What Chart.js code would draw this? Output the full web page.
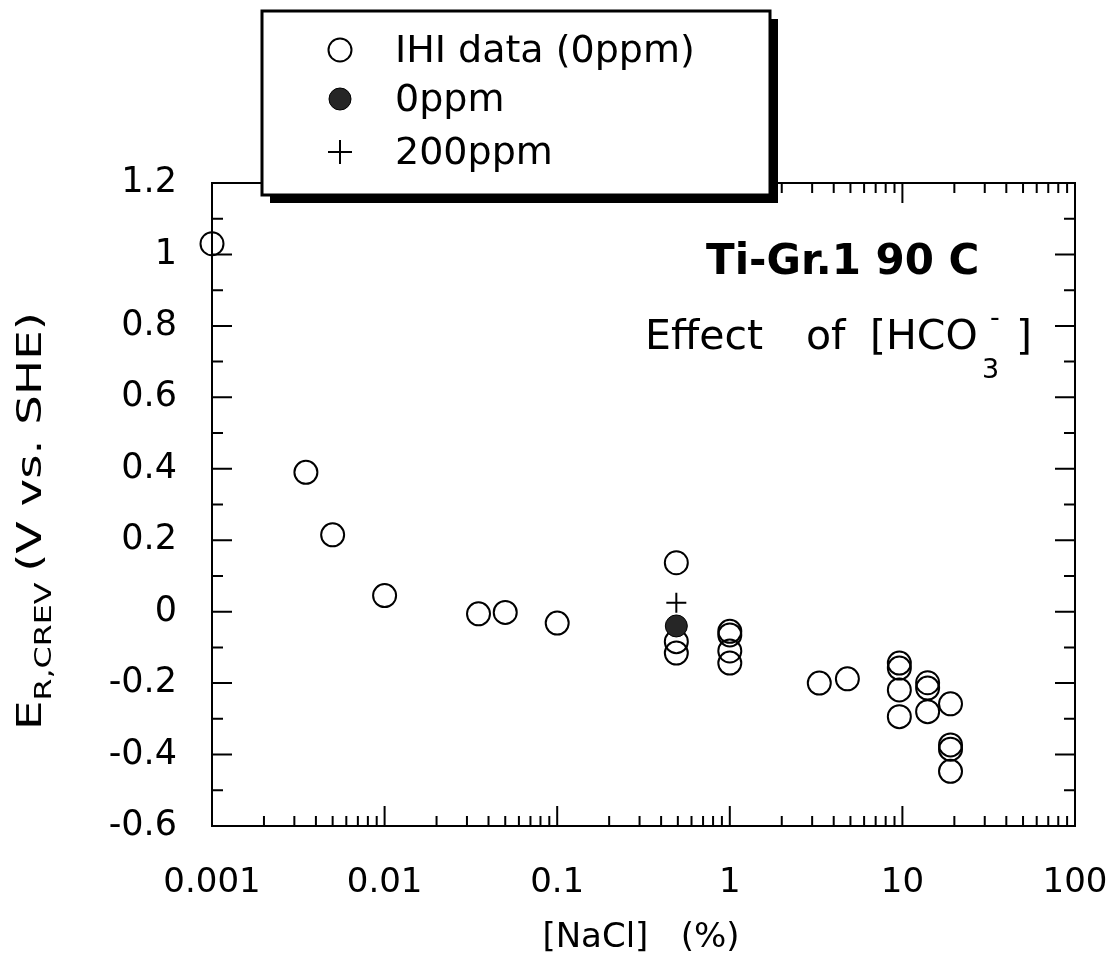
<!DOCTYPE html>
<html lang="en">
<head>
<meta charset="UTF-8">
<title>Ti-Gr.1 90 C - Effect of [HCO3-]</title>
<script src="https://cdn.jsdelivr.net/npm/chart.js"></script>
<style>
    body {
        margin: 0;
        padding: 0;
        background: #fff;
    }
    #wrap {
        width: 1116px;
        height: 961px;
    }
</style>
</head>
<body>
<div id="wrap">
    <canvas id="myChart" width="1116" height="961"></canvas>
</div>

<script>
    // IHI data (0ppm) - open circles
    var ihiX = [0.001, 0.0035, 0.005, 0.01, 0.035, 0.05, 0.1,
                0.49, 0.49, 0.49, 1, 1, 1, 1, 3.3, 4.8,
                9.6, 9.6, 9.6, 9.6, 14, 14, 14, 19, 19, 19, 19];
    var ihiY = [1.03, 0.39, 0.215, 0.045, -0.006, -0.002, -0.032,
                0.137, -0.084, -0.116, -0.055, -0.065, -0.11, -0.144, -0.2, -0.188,
                -0.144, -0.158, -0.219, -0.294, -0.199, -0.214, -0.28, -0.258, -0.373, -0.385, -0.447];
    // 0ppm - filled circle
    var zeroX = [0.49];
    var zeroY = [-0.04];
    // 200ppm - plus
    var ppm200X = [0.49];
    var ppm200Y = [0.025];

    var legendLabels = ['IHI data (0ppm)', '0ppm', '200ppm'];

    var xTickValues = [0.001, 0.01, 0.1, 1, 10, 100];
    var xTickLabels = ['0.001', '0.01', '0.1', '1', '10', '100'];
    var yTickValues = [-0.6, -0.4, -0.2, 0, 0.2, 0.4, 0.6, 0.8, 1, 1.2];
    var yTickLabels = ['-0.6', '-0.4', '-0.2', '0', '0.2', '0.4', '0.6', '0.8', '1', '1.2'];
    var yMinorTicks = [-0.5, -0.3, -0.1, 0.1, 0.3, 0.5, 0.7, 0.9, 1.1];

    var FONT = '"DejaVu Sans", "Liberation Sans", Arial, sans-serif';

    function toPoints(xs, ys) {
        return xs.map(function (x, i) { return { x: x, y: ys[i] }; });
    }

    // frame + inward ticks on all four sides
    var axisFrame = {
        id: 'axisFrame',
        beforeDatasetsDraw: function (chart) {
            var ctx = chart.ctx;
            var a = chart.chartArea;
            var xs = chart.scales.x;
            var ys = chart.scales.y;
            ctx.save();
            ctx.strokeStyle = '#000';
            ctx.lineWidth = 2;
            ctx.strokeRect(a.left, a.top, a.right - a.left, a.bottom - a.top);

            ctx.beginPath();
            yTickValues.forEach(function (v) {
                var py = ys.getPixelForValue(v);
                ctx.moveTo(a.left, py); ctx.lineTo(a.left + 20, py);
                ctx.moveTo(a.right, py); ctx.lineTo(a.right - 20, py);
            });
            yMinorTicks.forEach(function (v) {
                var py = ys.getPixelForValue(v);
                ctx.moveTo(a.left, py); ctx.lineTo(a.left + 11, py);
                ctx.moveTo(a.right, py); ctx.lineTo(a.right - 11, py);
            });
            xTickValues.forEach(function (v, i) {
                var px = xs.getPixelForValue(v);
                ctx.moveTo(px, a.bottom); ctx.lineTo(px, a.bottom - 20);
                ctx.moveTo(px, a.top); ctx.lineTo(px, a.top + 20);
                if (i < xTickValues.length - 1) {
                    for (var m = 2; m <= 9; m++) {
                        var pm = xs.getPixelForValue(v * m);
                        ctx.moveTo(pm, a.bottom); ctx.lineTo(pm, a.bottom - 10);
                        ctx.moveTo(pm, a.top); ctx.lineTo(pm, a.top + 10);
                    }
                }
            });
            ctx.stroke();
            ctx.restore();
        }
    };

    // axis titles, annotation and the boxed legend
    var extras = {
        id: 'extras',
        afterDraw: function (chart) {
            var ctx = chart.ctx;
            var ds = chart.data.datasets;
            ctx.save();
            ctx.fillStyle = '#000';
            ctx.textAlign = 'left';
            ctx.textBaseline = 'alphabetic';

            // y title, rotated and stretched along its baseline
            var mainFont = '34px ' + FONT;
            var subFont = '23px ' + FONT;
            ctx.font = mainFont;
            var wE = ctx.measureText('E').width;
            var wRest = ctx.measureText('(V vs. SHE)').width;
            ctx.font = subFont;
            var wSub = ctx.measureText('R,CREV').width;
            var total = wE + wSub + 8 + wRest;
            var sx = 418 / total;
            ctx.save();
            ctx.translate(41, 730);
            ctx.rotate(-Math.PI / 2);
            ctx.scale(sx, 1);
            ctx.font = mainFont;
            ctx.fillText('E', 0, 0);
            ctx.font = subFont;
            ctx.fillText('R,CREV', wE, 10);
            ctx.font = mainFont;
            ctx.fillText('(V vs. SHE)', wE + wSub + 8, 0);
            ctx.restore();

            // x title
            ctx.font = '34px ' + FONT;
            ctx.textAlign = 'center';
            ctx.textBaseline = 'middle';
            ctx.fillText('[NaCl]   (%)', 641, 938);

            // annotation
            ctx.textAlign = 'left';
            ctx.textBaseline = 'alphabetic';
            ctx.font = 'bold 42px ' + FONT;
            ctx.fillText('Ti-Gr.1 90 C', 706, 274);
            ctx.font = '41px ' + FONT;
            ctx.fillText('Effect', 645, 349);
            ctx.fillText('of', 806, 349);
            ctx.fillText('[HCO', 870, 349);
            ctx.font = '27px ' + FONT;
            ctx.fillText('3', 982, 378);
            ctx.fillText('-', 990, 326);
            ctx.font = '41px ' + FONT;
            ctx.fillText(']', 1016, 349);

            // legend box with drop shadow
            var bx = 262, by = 11, bw = 508, bh = 184;
            ctx.fillStyle = '#000';
            ctx.fillRect(bx + 8, by + 8, bw, bh);
            ctx.fillStyle = '#fff';
            ctx.fillRect(bx, by, bw, bh);
            ctx.strokeStyle = '#000';
            ctx.lineWidth = 3;
            ctx.strokeRect(bx, by, bw, bh);

            var rows = [50, 99, 152];
            var order = [2, 0, 1]; // dataset index for each legend row
            ctx.font = '38px ' + FONT;
            ctx.textBaseline = 'middle';
            rows.forEach(function (ry, i) {
                var d = ds[order[i]];
                ctx.save();
                ctx.fillStyle = d.backgroundColor;
                ctx.strokeStyle = d.borderColor;
                ctx.lineWidth = d.borderWidth;
                Chart.helpers.drawPoint(ctx, {
                    pointStyle: d.pointStyle,
                    radius: d.pointStyle === 'cross' ? 12 : d.pointRadius,
                    rotation: 0,
                    borderWidth: d.borderWidth
                }, 340, ry);
                ctx.restore();
                ctx.fillStyle = '#000';
                ctx.fillText(legendLabels[i], 395, ry + 2);
            });
            ctx.restore();
        }
    };

    var ctx = document.getElementById('myChart').getContext('2d');
    var myChart = new Chart(ctx, {
        type: 'scatter',
        data: {
            datasets: [{
                label: legendLabels[1],
                data: toPoints(zeroX, zeroY),
                pointStyle: 'circle',
                pointRadius: 11,
                backgroundColor: '#262626',
                borderColor: '#000',
                borderWidth: 1,
                clip: false
            }, {
                label: legendLabels[2],
                data: toPoints(ppm200X, ppm200Y),
                pointStyle: 'cross',
                pointRadius: 10,
                backgroundColor: '#000',
                borderColor: '#000',
                borderWidth: 2,
                clip: false
            }, {
                label: legendLabels[0],
                data: toPoints(ihiX, ihiY),
                pointStyle: 'circle',
                pointRadius: 11.5,
                backgroundColor: 'rgba(255,255,255,0)',
                borderColor: '#000',
                borderWidth: 2,
                clip: false
            }]
        },
        options: {
            responsive: false,
            animation: false,
            layout: {
                padding: { top: 183, right: 41, left: 0, bottom: 0 }
            },
            plugins: {
                legend: { display: false },
                tooltip: { enabled: false }
            },
            scales: {
                x: {
                    type: 'logarithmic',
                    min: 0.001,
                    max: 100,
                    grid: { display: false, drawTicks: false },
                    border: { display: false },
                    afterBuildTicks: function (scale) {
                        scale.ticks = xTickValues.map(function (v) { return { value: v, major: true }; });
                    },
                    afterFit: function (scale) {
                        scale.height = 135;
                        scale.paddingLeft = 0;
                        scale.paddingRight = 0;
                    },
                    ticks: {
                        autoSkip: false,
                        maxRotation: 0,
                        padding: 37,
                        color: '#000',
                        font: { family: FONT, size: 34 },
                        callback: function (value, index) {
                            return xTickLabels[index];
                        }
                    }
                },
                y: {
                    type: 'linear',
                    min: -0.6,
                    max: 1.2,
                    grid: { display: false, drawTicks: false },
                    border: { display: false },
                    afterBuildTicks: function (scale) {
                        scale.ticks = yTickValues.map(function (v) { return { value: v }; });
                    },
                    afterFit: function (scale) {
                        scale.width = 212;
                        scale.paddingTop = 0;
                        scale.paddingBottom = 0;
                    },
                    ticks: {
                        padding: 35,
                        color: '#000',
                        font: { family: FONT, size: 35 },
                        callback: function (value, index) {
                            return yTickLabels[index];
                        }
                    }
                }
            }
        },
        plugins: [axisFrame, extras]
    });
</script>
</body>
</html>
